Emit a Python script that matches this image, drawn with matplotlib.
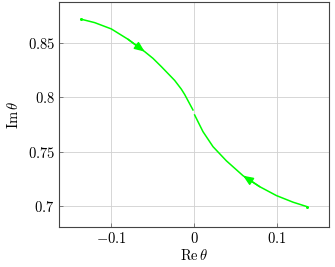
import matplotlib
matplotlib.use("Agg")
import matplotlib.pyplot as plt

plt.rcParams["mathtext.fontset"] = "cm"
plt.rcParams["font.family"] = "serif"
plt.rcParams["font.serif"] = ["DejaVu Serif"]

# upper branch (flows towards the centre)
upper_re = [-0.136, -0.1199, -0.0998, -0.0797, -0.0595, -0.0495, -0.0394,
            -0.0233, -0.0153, -0.0112, -0.0012]
upper_im = [0.8718, 0.8687, 0.8629, 0.8534, 0.842, 0.8358, 0.8282,
            0.8155, 0.8075, 0.8025, 0.7883]
# lower branch (flows towards the centre)
lower_re = [0.0008, 0.0109, 0.023, 0.0391, 0.0592, 0.0793, 0.0995, 0.1196, 0.1365]
lower_im = [0.7837, 0.7683, 0.7545, 0.7415, 0.7278, 0.7177, 0.7095, 0.7034, 0.6993]

xticks = [-0.1, 0, 0.1]
xtick_labels = ["$-0.1$", "$0$", "$0.1$"]
yticks = [0.7, 0.75, 0.8, 0.85]
ytick_labels = ["$0.7$", "$0.75$", "$0.8$", "$0.85$"]

green = "#00ff00"

fig = plt.figure(figsize=(3.35, 2.67), dpi=100)
ax = fig.add_axes([0.176, 0.150, 0.806, 0.843])

ax.plot(upper_re, upper_im, color=green, lw=1.1, solid_joinstyle="round")
ax.plot(lower_re, lower_im, color=green, lw=1.1, solid_joinstyle="round")
ax.plot([upper_re[0], lower_re[-1]], [upper_im[0], lower_im[-1]], "o",
        color=green, ms=2.2, mew=0)

arrow = dict(arrowstyle="-|>,head_length=0.6,head_width=0.25", color=green,
             lw=1.1, shrinkA=0, shrinkB=0)
ax.annotate("", xy=(upper_re[4], upper_im[4]), xytext=(upper_re[3], upper_im[3]),
            arrowprops=arrow)
ax.annotate("", xy=(lower_re[4], lower_im[4]), xytext=(lower_re[5], lower_im[5]),
            arrowprops=arrow)

ax.set_xlim(-0.163, 0.163)
ax.set_ylim(0.6806, 0.8878)
ax.set_xticks(xticks)
ax.set_xticklabels(xtick_labels)
ax.set_yticks(yticks)
ax.set_yticklabels(ytick_labels)
ax.tick_params(direction="in", length=3, width=0.5, color="#555555",
               labelsize=10.5, pad=3)
ax.grid(True, color="#d0d0d0", lw=0.6)
ax.set_axisbelow(True)
for s in ax.spines.values():
    s.set_linewidth(0.8)
    s.set_color("#444444")

ax.set_xlabel(r"$\mathrm{Re}\,\theta$", fontsize=10.5, labelpad=1)
ax.set_ylabel(r"$\mathrm{Im}\,\theta$", fontsize=10.5, labelpad=5)

fig.savefig("out.png", dpi=100)
